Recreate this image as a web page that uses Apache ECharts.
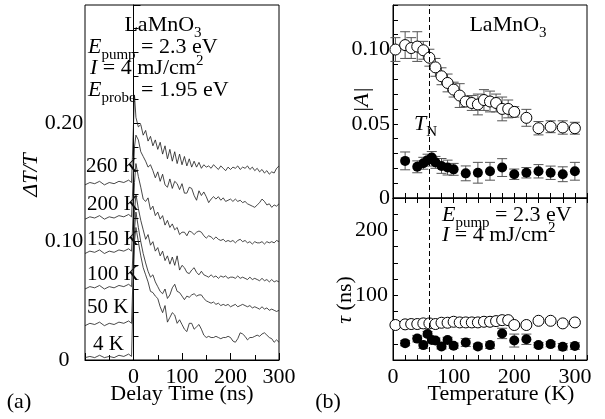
<!DOCTYPE html>
<html><head><meta charset="utf-8">
<script src="https://cdn.jsdelivr.net/npm/echarts@6/dist/echarts.min.js"></script>
<style>html,body{margin:0;padding:0;background:#fff}#c{width:605px;height:419px}</style>
</head><body><div id="c"></div>
<script>
// ---------- (a) transient reflectivity traces ----------
const delayTime = [-100,-90,-80,-70,-60,-50,-40,-30,-20,-10,-4,0,2,
  5,10,15,20,25,30,35,40,45,50,55,60,65,70,75,80,85,90,95,100,
  105,110,115,120,125,130,135,140,145,150,155,160,165,170,175,180,185,190,195,200,
  205,210,215,220,225,230,235,240,245,250,255,260,265,270,275,280,285,290,295,300];
const traceLabels = ['260 K','200 K','150 K','100 K','50 K','4 K'];
const trace260K = [0.148,0.150,0.149,0.151,0.148,0.150,0.149,0.151,0.150,0.152,0.150,0.151,0.224,
  0.205,0.197,0.199,0.190,0.194,0.185,0.189,0.181,0.186,0.178,0.184,0.174,0.181,0.170,0.178,0.168,0.176,0.166,0.174,0.165,
  0.172,0.164,0.170,0.163,0.168,0.163,0.167,0.162,0.165,0.163,0.164,0.162,0.165,0.163,0.161,0.164,0.162,0.160,0.163,0.161,
  0.163,0.162,0.164,0.161,0.163,0.162,0.164,0.161,0.163,0.160,0.162,0.159,0.161,0.158,0.160,0.157,0.159,0.158,0.162,0.164];
const trace200K = [0.119,0.121,0.120,0.122,0.119,0.121,0.120,0.122,0.121,0.123,0.121,0.122,0.180,
  0.190,0.186,0.176,0.172,0.168,0.163,0.165,0.160,0.154,0.159,0.151,0.157,0.148,0.146,0.153,0.145,0.151,0.149,0.144,0.149,
  0.141,0.141,0.146,0.145,0.139,0.135,0.143,0.139,0.142,0.138,0.133,0.136,0.138,0.136,0.138,0.135,0.137,0.134,0.135,0.136,
  0.134,0.136,0.134,0.135,0.133,0.134,0.132,0.131,0.130,0.129,0.131,0.133,0.136,0.134,0.131,0.132,0.129,0.131,0.130,0.132];
const trace150K = [0.090,0.092,0.091,0.093,0.090,0.092,0.091,0.093,0.092,0.094,0.092,0.093,0.150,
  0.166,0.155,0.146,0.136,0.134,0.137,0.127,0.130,0.122,0.125,0.119,0.122,0.114,0.118,0.112,0.115,0.110,0.112,0.106,0.108,
  0.108,0.105,0.109,0.108,0.106,0.108,0.109,0.108,0.105,0.103,0.105,0.104,0.102,0.104,0.102,0.101,0.102,0.100,0.101,0.100,
  0.101,0.099,0.101,0.102,0.100,0.101,0.099,0.100,0.098,0.100,0.099,0.099,0.100,0.098,0.100,0.099,0.100,0.099,0.101,0.100];
const trace100K = [0.060,0.062,0.061,0.063,0.060,0.062,0.061,0.063,0.062,0.064,0.062,0.063,0.125,
  0.140,0.128,0.118,0.110,0.102,0.106,0.097,0.100,0.092,0.095,0.088,0.092,0.084,0.088,0.081,0.087,0.080,0.088,0.076,0.080,
  0.078,0.074,0.073,0.076,0.078,0.074,0.072,0.075,0.072,0.071,0.070,0.072,0.070,0.071,0.069,0.071,0.070,0.071,0.069,0.070,
  0.070,0.069,0.071,0.069,0.070,0.069,0.068,0.070,0.068,0.069,0.068,0.067,0.069,0.067,0.068,0.066,0.068,0.066,0.067,0.066];
const trace50K = [0.029,0.031,0.030,0.032,0.029,0.031,0.030,0.032,0.031,0.033,0.031,0.032,0.110,
  0.125,0.112,0.100,0.090,0.082,0.075,0.070,0.072,0.066,0.062,0.058,0.056,0.060,0.052,0.055,0.061,0.064,0.058,0.057,0.054,
  0.051,0.054,0.053,0.055,0.056,0.054,0.055,0.055,0.052,0.050,0.049,0.048,0.049,0.047,0.048,0.046,0.047,0.046,0.047,0.045,
  0.046,0.047,0.045,0.046,0.047,0.046,0.045,0.046,0.044,0.045,0.044,0.043,0.045,0.043,0.044,0.042,0.043,0.042,0.041,0.042];
const trace4K = [0.002,0.003,0.002,0.004,0.002,0.003,0.002,0.004,0.003,0.005,0.003,0.002,0.100,
  0.112,0.100,0.088,0.078,0.072,0.066,0.058,0.057,0.054,0.052,0.045,0.040,0.046,0.032,0.036,0.040,0.038,0.031,0.034,0.030,
  0.026,0.024,0.031,0.031,0.026,0.028,0.030,0.026,0.021,0.019,0.020,0.019,0.019,0.020,0.019,0.018,0.019,0.019,0.020,0.019,
  0.016,0.015,0.018,0.023,0.022,0.020,0.017,0.019,0.019,0.020,0.021,0.020,0.022,0.023,0.021,0.019,0.018,0.015,0.017,0.015];

// ---------- (b) amplitude and decay time vs temperature ----------
const tempOpen = [4,20,30,40,50,60,70,80,90,100,110,120,130,140,150,160,170,180,190,200,220,240,260,280,300];
const ampOpen = [0.100,0.103,0.101,0.102,0.0995,0.0945,0.088,0.082,0.0775,0.073,0.069,0.065,0.064,0.063,0.066,0.065,0.064,0.060,0.060,0.058,0.054,0.047,0.048,0.0475,0.047];
const ampOpenErr = [0.008,0.009,0.007,0.010,0.006,0.0057,0.006,0.0057,0.006,0.005,0.008,0.0035,0.005,0.007,0.007,0.007,0.006,0.008,0.006,0.0035,0.0057,0.0045,0.004,0.0045,0.004];
const tauOpen = [54,55,55.5,55.5,56.5,56.5,55.5,57.5,57.5,59,58,58,58,58,59,59,60,61.5,61.5,54,54,60.5,60.5,56.5,58];
const tauOpenErr = [2,2,2,2,2,2,2,3,3,3,3,3,3,3,3,3,3,3,3,3,3,4,4,3,3];
const tempFilled = [20,40,50,57,64,70,80,90,100,120,140,160,180,200,220,240,260,280,300];
const ampFilled = [0.025,0.021,0.0234,0.0255,0.0273,0.024,0.0216,0.0205,0.0193,0.0166,0.017,0.018,0.0205,0.016,0.017,0.018,0.017,0.016,0.018];
const ampFilledErr = [0.006,0.004,0.004,0.004,0.004,0.004,0.005,0.005,0.004,0.005,0.007,0.006,0.006,0.0035,0.0035,0.0045,0.0045,0.005,0.006];
const tauFilled = [26,33,23,40,31,30,21,31,22,27,21,23,41,30,32,23,24.5,20.5,21.5];
const tauFilledErr = [4,5,5,4,4,4,4,4,4,6,4,5,8,10,8,4,4,5,5];
const TN = 60;

const F = 'Liberation Serif';
const FS = 22;
const chart = echarts.init(document.getElementById('c'));
const traces = [trace260K, trace200K, trace150K, trace100K, trace50K, trace4K];
const near = (v, t) => Math.abs(v - t) < 1e-6;

const rich = {
  n: {fontFamily: F, fontSize: FS, lineHeight: 30, color: '#000'},
  i: {fontFamily: F, fontSize: FS, lineHeight: 30, fontStyle: 'italic', color: '#000'},
  sub: {fontFamily: F, fontSize: 15, lineHeight: 13, verticalAlign: 'bottom', color: '#000'},
  sup: {fontFamily: F, fontSize: 15, lineHeight: 22, verticalAlign: 'top', color: '#000'}
};
function txt(x, y, text, align) {
  return {type: 'text', x: x, y: y, silent: true, style: {text: text, rich: rich, align: align || 'left', verticalAlign: 'top'}};
}
function lbl(x, y, text, extra) {
  return {type: 'text', x: x, y: y, silent: true, rotation: (extra && extra.rotation) || 0,
    style: Object.assign({text: text, fontFamily: F, fontSize: FS, fill: '#000', align: 'center', verticalAlign: 'middle'},
      (extra && extra.style) || {})};
}

function errSeries(name, xs, ys, es, xi, yi) {
  return {
    type: 'custom', name: name, xAxisIndex: xi, yAxisIndex: yi, z: 2, silent: true,
    data: xs.map((x, k) => [x, ys[k], es[k]]),
    renderItem: function (params, api) {
      const x = api.value(0), y = api.value(1), e = api.value(2);
      const a = api.coord([x, y + e]), b = api.coord([x, y - e]);
      const hw = 5, st = {stroke: '#555', lineWidth: 1};
      return {type: 'group', children: [
        {type: 'line', shape: {x1: a[0], y1: a[1], x2: b[0], y2: b[1]}, style: st},
        {type: 'line', shape: {x1: a[0] - hw, y1: a[1], x2: a[0] + hw, y2: a[1]}, style: st},
        {type: 'line', shape: {x1: b[0] - hw, y1: b[1], x2: b[0] + hw, y2: b[1]}, style: st}
      ]};
    }
  };
}

const axisCommon = {
  axisLine: {show: true, lineStyle: {color: '#000', width: 1}},
  axisTick: {show: true, inside: true, length: 5, lineStyle: {color: '#000', width: 1}},
  splitLine: {show: false},
  axisLabel: {color: '#000', fontFamily: F, fontSize: FS}
};
function ax(o) { return echarts.util.merge(echarts.util.clone(axisCommon), o, true); }

const openStyle = {color: '#fff', borderColor: '#000', borderWidth: 1, opacity: 1};
const fillStyle = {color: '#000', opacity: 1};
const tnLine = {silent: true, symbol: ['none', 'none'], label: {show: false},
  lineStyle: {color: '#000', type: [5, 3], width: 1}, data: [{xAxis: TN}]};

const option = {
  animation: false,
  grid: [
    {left: 85, top: 5, width: 194, height: 355, show: true, borderColor: '#000', borderWidth: 1},
    {left: 393, top: 5, width: 194, height: 193, show: true, borderColor: '#000', borderWidth: 1},
    {left: 393, top: 198, width: 194, height: 162, show: true, borderColor: '#000', borderWidth: 1}
  ],
  xAxis: [
    ax({type: 'value', gridIndex: 0, min: -100, max: 300, interval: 100,
      axisTick: {length: 7}, minorTick: {show: true, splitNumber: 2, length: 5, lineStyle: {color: '#000'}},
      axisLabel: {margin: 6, formatter: v => (v >= 0 ? String(v) : '')}}),
    ax({type: 'value', gridIndex: 1, min: 0, max: 320, interval: 20, axisLabel: {show: false}}),
    ax({type: 'value', gridIndex: 2, min: 0, max: 320, interval: 20,
      axisLabel: {margin: 6, formatter: v => (v % 100 === 0 ? String(v) : '')}}),
    ax({type: 'value', gridIndex: 2, position: 'top', min: 0, max: 320, interval: 20, axisLabel: {show: false}})
  ],
  yAxis: [
    ax({type: 'value', gridIndex: 0, min: 0, max: 0.3, interval: 0.1,
      axisTick: {length: 7}, minorTick: {show: true, splitNumber: 5, length: 5, lineStyle: {color: '#000'}},
      axisLabel: {margin: 21, align: 'center',
        formatter: v => (near(v, 0) ? '0' : (near(v, 0.3) ? '' : v.toFixed(2)))}}),
    ax({type: 'value', gridIndex: 1, min: 0, max: 0.13, interval: 0.01,
      axisLabel: {margin: 3,
        formatter: v => (near(v, 0) ? '0' : (near(v, 0.05) || near(v, 0.1) ? v.toFixed(2) : ''))}}),
    ax({type: 'value', gridIndex: 2, min: 0, max: 250, interval: 25,
      axisLabel: {margin: 5, formatter: v => (v === 100 || v === 200 ? String(v) : '')}})
  ],
  series: [].concat(
    traces.map((tr, k) => ({
      type: 'line', name: traceLabels[k], xAxisIndex: 0, yAxisIndex: 0, showSymbol: false, silent: true,
      data: delayTime.map((t, j) => [t, tr[j]]),
      lineStyle: {color: '#1a1a1a', width: 0.8}
    })),
    [
      errSeries('ampOpenErr', tempOpen, ampOpen, ampOpenErr, 1, 1),
      errSeries('ampFilledErr', tempFilled, ampFilled, ampFilledErr, 1, 1),
      {type: 'scatter', xAxisIndex: 1, yAxisIndex: 1, symbol: 'circle', symbolSize: 11, z: 3, silent: true,
        data: tempOpen.map((t, k) => [t, ampOpen[k]]), itemStyle: openStyle, markLine: tnLine},
      {type: 'scatter', xAxisIndex: 1, yAxisIndex: 1, symbol: 'circle', symbolSize: 10, z: 3, silent: true,
        data: tempFilled.map((t, k) => [t, ampFilled[k]]), itemStyle: fillStyle},
      errSeries('tauOpenErr', tempOpen, tauOpen, tauOpenErr, 2, 2),
      errSeries('tauFilledErr', tempFilled, tauFilled, tauFilledErr, 2, 2),
      {type: 'scatter', xAxisIndex: 2, yAxisIndex: 2, symbol: 'circle', symbolSize: 11, z: 3, silent: true,
        data: tempOpen.map((t, k) => [t, tauOpen[k]]), itemStyle: openStyle, markLine: tnLine},
      {type: 'scatter', xAxisIndex: 2, yAxisIndex: 2, symbol: 'circle', symbolSize: 10, z: 3, silent: true,
        data: tempFilled.map((t, k) => [t, tauFilled[k]]), itemStyle: fillStyle}
    ]
  ),
  graphic: [
    txt(163, 10.6, '{n|LaMnO}{sub|3}', 'center'),
    txt(88, 32.6, '{i|E}{sub|pump}{n| = 2.3 eV}'),
    txt(90, 53.6, '{i|I}{n| = 4 mJ/cm}{sup|2}'),
    txt(88, 75.6, '{i|E}{sub|probe}{n| = 1.95 eV}'),
    txt(508, 10.6, '{n|LaMnO}{sub|3}', 'center'),
    txt(414, 109.6, '{i|T}{sub|N}'),
    txt(442, 200.6, '{i|E}{sub|pump}{n| = 2.3 eV}'),
    txt(442, 220.6, '{i|I}{n| = 4 mJ/cm}{sup|2}'),
    lbl(86, 166, traceLabels[0], {style: {align: 'left', fontSize: 21}}),
    lbl(87, 204, traceLabels[1], {style: {align: 'left', fontSize: 21}}),
    lbl(87, 239, traceLabels[2], {style: {align: 'left', fontSize: 21}}),
    lbl(87, 274, traceLabels[3], {style: {align: 'left', fontSize: 21}}),
    lbl(87, 307, traceLabels[4], {style: {align: 'left', fontSize: 21}}),
    lbl(93, 344, traceLabels[5], {style: {align: 'left', fontSize: 21}}),
    lbl(31, 175, 'ΔT/T', {rotation: Math.PI / 2, style: {fontStyle: 'italic'}}),
    lbl(362, 100, '|A|', {rotation: Math.PI / 2, style: {fontStyle: 'italic'}}),
    {type: 'text', x: 345, y: 300, rotation: Math.PI / 2, silent: true,
      style: {text: '{i|τ}{n| (ns)}', rich: rich, align: 'center', verticalAlign: 'middle'}},
    lbl(182, 394, 'Delay Time (ns)'),
    lbl(501, 394, 'Temperature (K)'),
    lbl(19, 402, '(a)'),
    lbl(328, 402, '(b)')
  ]
};
chart.setOption(option);
</script></body></html>
